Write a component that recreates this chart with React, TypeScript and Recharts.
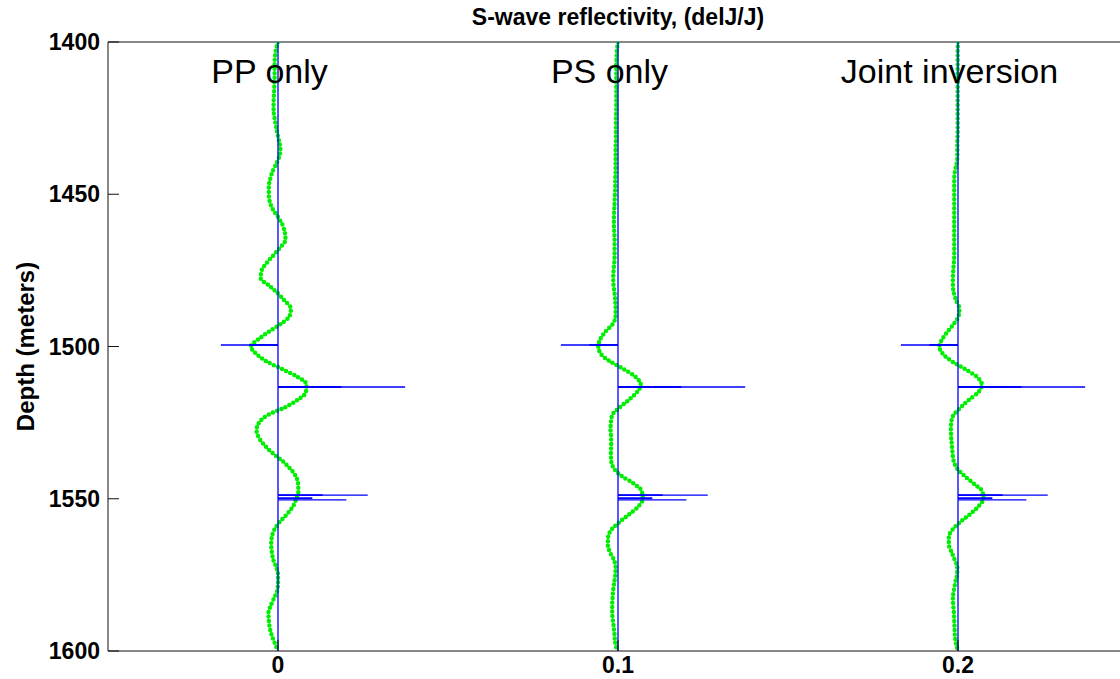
import React from 'react'
import {
  ComposedChart,
  Line,
  XAxis,
  YAxis,
  ReferenceLine,
  ReferenceDot,
} from 'recharts'

const FONT = '"Liberation Sans", Arial, sans-serif'

// depth samples (m) for the inverted traces
const depths = [
  1400, 1402.5, 1405, 1407.5, 1410, 1412.5, 1415, 1417.5, 1420, 1422.5,
  1425, 1427.5, 1430, 1432.5, 1435, 1437.5, 1440, 1442.5, 1445, 1447.5,
  1450, 1452.5, 1455, 1457.5, 1460, 1462.5, 1465, 1467.5, 1470, 1472.5,
  1475, 1477.5, 1480, 1482.5, 1485, 1487.5, 1490, 1492.5, 1495, 1497.5,
  1500, 1502.5, 1505, 1507.5, 1510, 1512.5, 1515, 1517.5, 1520, 1522.5,
  1525, 1527.5, 1530, 1532.5, 1535, 1537.5, 1540, 1542.5, 1545, 1547.5,
  1550, 1552.5, 1555, 1557.5, 1560, 1562.5, 1565, 1567.5, 1570, 1572.5,
  1575, 1577.5, 1580, 1582.5, 1585, 1587.5, 1590, 1592.5, 1595, 1597.5,
  1600,
]

// inverted delJ/J, in units of 1e-3
const ppInverted = [
  0, -0.6, -0.9, -1.0, -1.0, -1.0, -1.1, -1.2, -1.3, -1.3,
  -1.0, -0.6, -0.2, 0.3, 0.7, 0.4, -0.5, -1.6, -2.3, -2.7,
  -2.7, -2.4, -1.5, 0.0, 1.3, 2.0, 2.2, 0.6, -1.3, -3.3,
  -4.8, -5.1, -2.6, -0.1, 2.0, 3.8, 3.4, 0.9, -2.5, -5.6,
  -8.0, -6.3, -3.2, 1.4, 5.8, 8.4, 8.2, 5.8, 2.0, -3.0,
  -5.6, -6.3, -5.6, -3.9, -1.6, 1.2, 3.5, 5.2, 5.9, 6.0,
  5.4, 4.4, 2.7, 0.6, -1.0, -1.8, -2.0, -1.8, -1.4, -0.5,
  0.0, 0.0, -0.2, -1.1, -2.1, -2.8, -2.7, -2.4, -1.8, -0.9,
  0,
]

const psInverted = [
  0, -0.3, -0.4, -0.5, -0.5, -0.5, -0.5, -0.5, -0.5, -0.5,
  -0.6, -0.6, -0.6, -0.6, -0.7, -0.7, -0.7, -0.7, -0.8, -0.8,
  -0.9, -1.0, -1.1, -1.2, -1.2, -1.1, -1.0, -1.0, -1.0, -1.1,
  -1.3, -1.4, -1.3, -1.0, -0.8, -0.7, -0.7, -1.5, -3.6, -5.2,
  -5.8, -5.0, -2.2, 1.8, 5.2, 6.7, 5.6, 3.2, 0.5, -1.7,
  -2.1, -2.2, -2.0, -2.0, -2.1, -2.0, -1.2, 1.0, 4.6, 7.0,
  7.3, 6.0, 3.4, 0.6, -1.8, -2.9, -3.0, -2.4, -1.2, -0.7,
  -0.8, -1.1, -1.4, -1.6, -1.7, -1.7, -1.5, -1.2, -1.0, -0.8,
  -0.2,
]

const jointInverted = [
  0, -0.1, -0.1, -0.1, -0.1, -0.1, -0.1, -0.1, -0.1, -0.1,
  -0.1, -0.1, -0.1, -0.2, -0.2, -0.2, -0.4, -0.9, -1.1, -1.1,
  -1.1, -1.1, -1.1, -1.1, -1.1, -1.1, -1.1, -1.1, -1.1, -1.2,
  -1.4, -1.5, -1.5, -1.2, -0.5, 0.4, 0.2, -1.2, -3.0, -4.6,
  -5.5, -4.4, -1.6, 2.2, 5.6, 7.0, 6.0, 3.2, 0.8, -1.3,
  -2.0, -2.1, -2.0, -1.8, -1.6, -1.3, -0.3, 1.9, 4.6, 7.1,
  7.5, 6.0, 3.6, 0.8, -1.5, -2.7, -2.7, -1.9, -1.0, -0.2,
  -0.3, -0.8, -1.2, -1.5, -1.4, -1.2, -1.1, -1.0, -0.9, -0.6,
  0,
]

// true reflectivity spikes
const spikeDepths = [1499.5, 1513.3, 1548.8, 1550.4]
const spikeValues = [-0.0168, 0.0374, 0.0264, 0.0201]
const innerSpikeDepths = [1499.5, 1513.3, 1548.8, 1549.8]
const innerSpikeValues = [-0.0084, 0.0186, 0.0131, 0.0101]

const panelNames = ['PP only', 'PS only', 'Joint inversion']
const panelOffsets = [0, 0.1, 0.2]
const panelCurves = [ppInverted, psInverted, jointInverted]

const xTicks = [0, 0.1, 0.2]
const yTicks = [1400, 1450, 1500, 1550, 1600]

type Pt = { depth: number; x: number }

function curveData(offset: number, vals: number[]): Pt[] {
  return depths.map((d, i) => ({ depth: d, x: offset + vals[i] / 1000 }))
}

// baseline with spikes going out and back
function spikeTrace(offset: number): Pt[] {
  const pts: Pt[] = [{ depth: 1400, x: offset }]
  spikeDepths.forEach((d, i) => {
    pts.push({ depth: d, x: offset }, { depth: d, x: offset + spikeValues[i] }, { depth: d, x: offset })
  })
  pts.push({ depth: 1600, x: offset })
  return pts
}

const tickStyle = { fontSize: 23, fontWeight: 'bold', fill: '#000', fontFamily: FONT }

function DepthLabel(props: any) {
  const vb = props.viewBox || { x: 0, y: 42, width: 108, height: 609 }
  const cx = 25
  const cy = vb.y + vb.height / 2
  return (
    <text
      x={cx}
      y={cy}
      transform={`rotate(-90 ${cx} ${cy})`}
      textAnchor="middle"
      dominantBaseline="central"
      style={{ fontSize: 24, fontWeight: 'bold', fontFamily: FONT, fill: '#000' }}
    >
      Depth (meters)
    </text>
  )
}

export default function App() {
  return (
    <div
      style={{
        position: 'fixed',
        left: 0,
        top: 0,
        width: 1120,
        height: 679,
        overflow: 'hidden',
        background: '#fff',
        fontFamily: FONT,
      }}
    >
      <div
        style={{
          position: 'absolute',
          left: 108,
          width: 1020,
          top: 4,
          textAlign: 'center',
          fontSize: 23,
          fontWeight: 'bold',
          lineHeight: '26px',
          color: '#000',
        }}
      >
        S-wave reflectivity, (delJ/J)
      </div>
      <ComposedChart
        layout="vertical"
        width={1129}
        height={679}
        margin={{ top: 42, right: 0, bottom: 0, left: 0 }}
      >
        <XAxis
          type="number"
          domain={[-0.05, 0.25]}
          ticks={xTicks}
          interval={0}
          allowDataOverflow
          height={28}
          tickSize={-11}
          tickMargin={17}
          axisLine={{ stroke: '#111' }}
          tickLine={{ stroke: '#111' }}
          tick={tickStyle}
        />
        <YAxis
          type="number"
          dataKey="depth"
          domain={[1400, 1600]}
          ticks={yTicks}
          interval={0}
          allowDataOverflow
          width={108}
          tickSize={-11}
          tickMargin={19}
          axisLine={{ stroke: '#111' }}
          tickLine={{ stroke: '#111' }}
          tick={tickStyle}
          label={DepthLabel}
        />
        <YAxis
          yAxisId="r"
          orientation="right"
          type="number"
          dataKey="depth"
          domain={[1400, 1600]}
          ticks={yTicks}
          interval={0}
          allowDataOverflow
          width={1}
          tickSize={-11}
          tick={false}
          axisLine={{ stroke: '#111' }}
          tickLine={{ stroke: '#111' }}
        />
        <ReferenceLine y={1400} stroke="#111" />
        {panelOffsets.map((off, k) => (
          <Line
            key={`g${k}`}
            data={curveData(off, panelCurves[k])}
            dataKey="x"
            type="monotone"
            stroke="#00ee00"
            strokeWidth={4.5}
            strokeDasharray="0 4.5"
            strokeLinecap="round"
            dot={false}
            activeDot={false}
            isAnimationActive={false}
          />
        ))}
        {panelOffsets.map((off, k) => (
          <Line
            key={`s${k}`}
            data={spikeTrace(off)}
            dataKey="x"
            type="linear"
            stroke="#0000ff"
            strokeWidth={1.3}
            dot={false}
            activeDot={false}
            isAnimationActive={false}
          />
        ))}
        {panelOffsets.flatMap((off, k) =>
          innerSpikeDepths.map((d, j) => (
            <Line
              key={`i${k}-${j}`}
              data={[
                { depth: d, x: off },
                { depth: d, x: off + innerSpikeValues[j] },
              ]}
              dataKey="x"
              type="linear"
              stroke="#0000ff"
              strokeWidth={1.8}
              dot={false}
              activeDot={false}
              isAnimationActive={false}
            />
          )),
        )}
        {panelOffsets.map((off, k) => (
          <ReferenceDot
            key={`n${k}`}
            x={off - 0.0025}
            y={1409.5}
            r={0}
            fill="none"
            stroke="none"
            label={{
              value: panelNames[k],
              position: 'center',
              fontSize: 34,
              fill: '#000',
              fontFamily: FONT,
            }}
          />
        ))}
      </ComposedChart>
    </div>
  )
}
